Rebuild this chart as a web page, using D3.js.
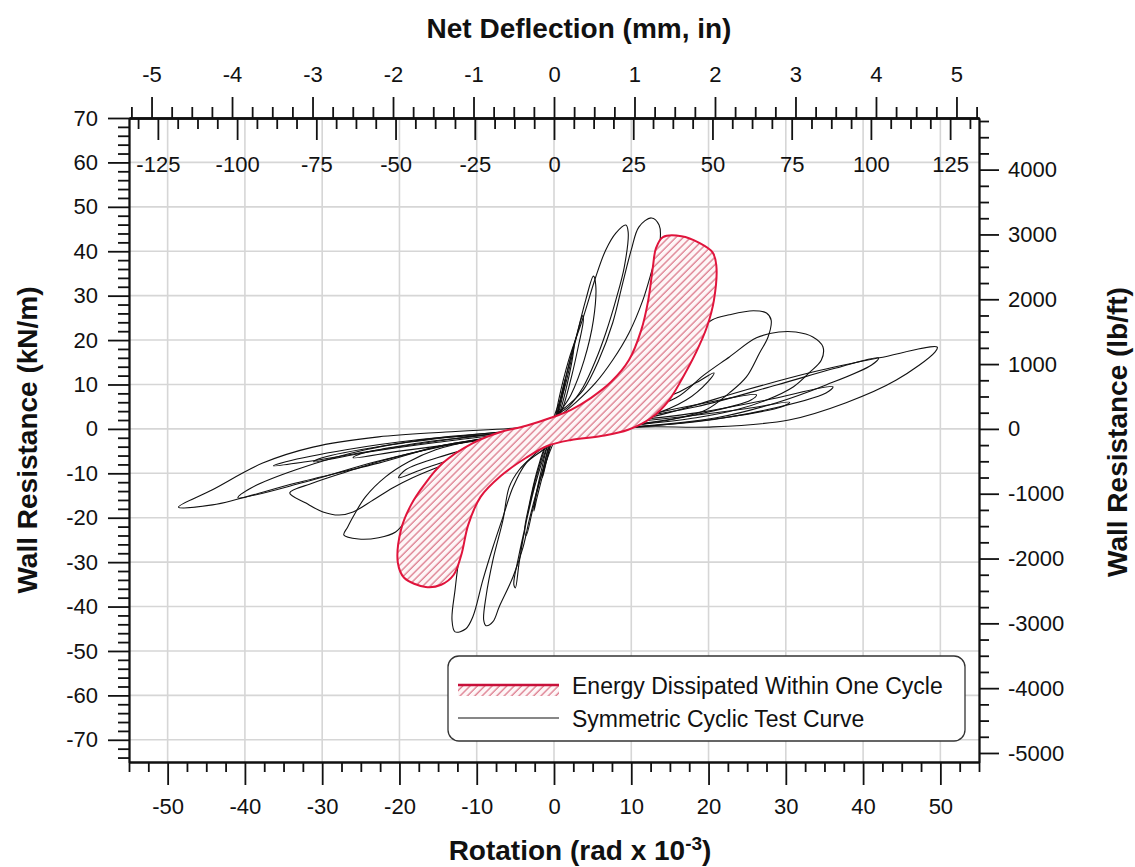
<!DOCTYPE html>
<html>
<head>
<meta charset="utf-8">
<script src="https://cdn.jsdelivr.net/npm/d3@7"></script>
<style>
  body { margin: 0; background: #fff; }
  svg text { font-family: "Liberation Sans", Arial, sans-serif; fill: #111; }
  .axis path, .axis line { stroke: #111; stroke-width: 1.8; }
  .axis text { font-size: 22px; }
</style>
</head>
<body>
<script>
// hysteresis data, rotation (rad x 10^-3) vs wall resistance (kN/m)

// one cycle with the hatched area
var energyLoop = [[14.1,43.2],[16.5,43.4],[18.8,41.9],[20.5,39.8],[21.0,36.9],[20.7,29.0],[19.8,23.0],
  [18.4,17.3],[16.7,11.7],[14.9,6.5],[12.6,2.5],[9.6,-0.2],[6.1,-1.6],[2.2,-2.5],[-0.8,-3.8],
  [-3.6,-6.5],[-6.9,-10.6],[-9.5,-15.3],[-11.1,-21.6],[-12.0,-28.4],[-13.0,-32.9],[-14.6,-35.1],
  [-16.6,-35.6],[-19.4,-33.5],[-20.2,-30.2],[-19.8,-22.7],[-18.5,-17.1],[-16.8,-12.6],[-14.4,-7.7],
  [-10.5,-3.2],[-6.9,-0.7],[-3.6,0.7],[-0.4,2.5],[2.2,4.3],[4.8,7.0],[7.4,10.6],[9.7,15.5],
  [11.3,22.3],[12.2,29.0],[12.8,36.5],[13.2,40.7]];

// black test curve, cycle by cycle
var cycle1 = [[0,0],[0.5,4],[1,8],[1.5,11.5],[1.3,9],[0.8,5],[0.3,1.8],[0,0.2],
  [-0.5,-4],[-1,-7.5],[-1.5,-11],[-1.3,-8.5],[-0.8,-4.5],[-0.3,-1.5]];
var cycle2 = [[0,0.5],[0.8,6],[1.6,12],[2.3,17],[2.6,19],[2.4,16],[1.7,10],[0.9,4.5],[0.2,1],
  [-0.6,-4.5],[-1.4,-10],[-2.2,-15.5],[-2.6,-18.5],[-2.4,-15.5],[-1.6,-9],[-0.8,-3.5]];
var cycle3 = [[0,1],[1,8],[2,15],[3,21.5],[3.7,25.5],[3.8,24.5],[3.2,19],[2.3,12],[1.2,5],[0.2,0.8],
  [-0.8,-5],[-1.8,-11.5],[-2.8,-18.5],[-3.6,-24],[-3.8,-23],[-3.2,-17],[-2.2,-9.5],[-1.1,-3.5]];
var cycle4 = [[0.1,3.2],[1.3,8.8],[2.8,20.0],[4.1,29.0],[5.1,34.4],[5.4,32.4],[5.1,24.5],[3.9,15.5],
  [2.2,7.7],[0.6,3.2],[-0.3,-1],[-1.3,-6],[-2.5,-13],[-3.6,-21],[-4.6,-29],[-5.2,-35],[-5.0,-35.8],
  [-4.5,-30],[-3.6,-21],[-2.5,-12],[-1.3,-5]];
var cycle5 = [[0.3,3.6],[0.6,6.5],[1.9,15.5],[3.8,25.2],[5.4,34.2],[6.7,40.3],[8.0,44.1],[9.3,45.9],
  [9.6,44.3],[9.1,36.5],[8.0,29.0],[6.7,21.6],[5.4,15.5],[3.8,9.5],[1.9,5.0],[0,2.5],
  [-1.3,-3.6],[-2.3,-5.4],[-4.5,-9.2],[-5.8,-13.1],[-6.6,-20.5],[-7.9,-29.5],[-8.8,-37.8],[-9.1,-43.0],
  [-8.8,-44.3],[-7.9,-43.4],[-7.1,-40.1],[-5.3,-33.3],[-4.0,-26.6],[-3.2,-20.5],[-2.3,-14.4],
  [-1.4,-9.2],[-0.6,-5.4],[0,-2.5]];
var cycle6 = [[0.3,3.2],[1.6,5.0],[3.8,8.8],[5.8,15.5],[7.6,23.9],[8.9,32.9],[10.0,40.3],[11.0,45.5],
  [12.6,47.5],[13.6,45.9],[13.7,41.9],[12.8,36.5],[11.5,29.0],[9.7,21.6],[7.6,15.5],[5.4,10.4],
  [2.8,5.9],[1.2,3.6],[0,2],
  [-1.0,-3.4],[-4.0,-6.3],[-7.1,-10.8],[-9.7,-15.3],[-11.4,-22.7],[-12.3,-29.5],[-12.8,-36.2],
  [-13.2,-43.0],[-12.8,-45.7],[-11.4,-45.0],[-10.5,-42.3],[-9.2,-34.0],[-7.9,-26.6],[-6.6,-19.8],
  [-5.3,-13.1],[-3.6,-7.7],[-1.4,-4.7],[0,-2.5]];
var cycle7 = [[0,0.5],[5.4,2.2],[10.6,4.5],[15.8,8.0],[18.5,10.5],[20.7,12.6],[19.9,10.6],[17.1,6.5],
  [11.9,2.7],[5.4,0.6],[0,-0.6],[-5,-2.5],[-11.4,-5.9],[-16.6,-8.8],[-20.1,-11.0],[-19.2,-9.2],
  [-14.0,-5.9],[-7.5,-2.9],[-2,-0.5]];
var cycle8 = [[0.3,0.5],[5.4,2.0],[10.6,5.4],[14.5,10.5],[16.5,15],[17.5,18.5],[18.8,22.3],[20.5,24.6],
  [22.7,25.7],[25.8,26.6],[27.5,26.1],[28.1,24.5],[27.7,20.7],[26.6,17.1],[24.9,11.7],[22.7,8.1],
  [19.7,4.3],[16.2,2.5],[10.6,1.1],[5.4,0.2],
  [-0.6,-1.4],[-7.5,-4.3],[-11.8,-8.6],[-14.9,-12.2],[-17.0,-16.0],[-18.8,-19.8],[-20.5,-23.2],
  [-22.7,-24.5],[-25.3,-24.8],[-27.2,-23.9],[-26.7,-22.1],[-26.0,-19.8],[-24.4,-15.3],[-21.8,-10.8],
  [-18.8,-7.4],[-15.3,-4.7],[-10.1,-2.5],[-3.6,-0.9]];
var cycle9 = [[0,0.3],[5,1.5],[11.9,3.2],[19.7,5.9],[26.2,7.7],[25.5,6.5],[18.4,3.2],[10.6,0.9],[4,0],
  [-5,-1.5],[-12,-3.2],[-20,-5],[-26,-6.5],[-25,-5.6],[-18,-3.3],[-10,-1.6],[-3,-0.3]];
var cycle10 = [[0.3,0.2],[8.0,2.5],[15.8,7.0],[19.3,12.0],[22.7,16.2],[26.2,20.5],[29.1,21.8],[31.3,21.8],
  [33.5,20.7],[34.8,18.5],[34.6,15.5],[33.0,12.6],[31.0,9.5],[27.5,6.5],[23.6,4.3],[18.4,2.5],
  [10.6,0.9],[4.1,-0.2],
  [-0.4,-0.9],[-7.5,-3.6],[-15.3,-8.8],[-18.3,-11.0],[-20.9,-13.3],[-23.4,-16.0],[-26.0,-18.7],
  [-27.8,-19.4],[-29.9,-18.7],[-32.1,-16.7],[-34.2,-14.4],[-31.2,-12.2],[-26.9,-9.7],[-22.7,-7.4],
  [-18.3,-5.4],[-14.0,-3.6],[-7.5,-1.8],[-2.3,-0.7]];
var cycle11 = [[0,0],[8,1.2],[18,3],[25,4.6],[30.5,6],[29.5,5],[22,2.5],[12,0.6],[4,-0.2],
  [-6,-1.2],[-15,-3],[-24,-5.2],[-31.1,-7.4],[-30,-6.5],[-22,-3.8],[-12,-1.6],[-3,-0.2]];
var cycle12 = [[0,0.2],[8,1.5],[18.4,3.6],[27.5,6.5],[36.1,9.5],[35.2,8.1],[27.5,4.3],[18.4,1.6],[8,0.2],
  [0,-0.3],[-7,-1],[-14,-2.5],[-24.4,-5.2],[-32.1,-7.4],[-36.3,-8.3],[-34.7,-7.4],[-26.9,-4.7],
  [-17.9,-2.5],[-7.5,-1.1]];
var cycle13 = [[0,0.5],[8,2],[18.4,5.0],[28.8,9.9],[36.5,13.7],[42.0,16.0],[41.1,14.4],[35.2,9.9],
  [28.8,5.9],[21.0,2.5],[11.9,0.7],[4,0],
  [-5,-1.2],[-14.0,-3.8],[-23.1,-7.4],[-32.1,-11.9],[-40.9,-15.5],[-39.2,-13.3],[-33.4,-9.2],
  [-24.4,-4.7],[-14.0,-1.8],[-4.9,-0.5]];
var cycle14 = [[0,1],[6,1.8],[11.9,2.5],[16.2,4.3],[24.9,8.8],[33.5,12.8],[42.1,16.0],[49.6,18.4],
  [49.3,17.3],[44.3,11.0],[37.8,5.9],[30.4,2.0],[20.6,0.45],[11.9,0.45],[5.4,-0.2],
  [0,-0.7],[-14.0,-3.6],[-22.7,-7.7],[-33.4,-12.2],[-40.9,-15.8],[-44.2,-17.1],[-48.6,-17.6],
  [-44.2,-13.7],[-37.7,-7.7],[-31.2,-4.1],[-22.7,-1.8],[-14.0,-0.7],[-4.9,0.2]];

var cycles = [cycle1, cycle2, cycle3, cycle4, cycle5, cycle6, cycle7, cycle8,
  cycle9, cycle10, cycle11, cycle12, cycle13, cycle14];

// tick values
var rotTicks = d3.range(-50, 51, 10);
var kNTicks = d3.range(-70, 71, 10);
var lbTicks = d3.range(-5000, 4001, 1000);
var mmTicks = d3.range(-125, 126, 25);
var inTicks = d3.range(-5, 6, 1);

var legendLabels = ["Energy Dissipated Within One Cycle", "Symmetric Cyclic Test Curve"];

var WALL_MM = 2438.4 / 1000;   // mm of deflection per 1e-3 rad (8 ft wall)
var KN_TO_LB = 68.5218;         // kN/m -> lb/ft

var W = 1135, H = 867;
var PLOT = {left: 129, right: 979, top: 118, bottom: 762};

var svg = d3.select("body").append("svg")
    .attr("width", W)
    .attr("height", H);

var x = d3.scaleLinear().domain([-55, 55]).range([PLOT.left, PLOT.right]);
var y = d3.scaleLinear().domain([-75, 70]).range([PLOT.bottom, PLOT.top]);
var xMM = d3.scaleLinear().domain([-55 * WALL_MM, 55 * WALL_MM]).range([PLOT.left, PLOT.right]);
var xIn = d3.scaleLinear().domain([-55 * WALL_MM / 25.4, 55 * WALL_MM / 25.4]).range([PLOT.left, PLOT.right]);
var yLb = d3.scaleLinear().domain([-75 * KN_TO_LB, 70 * KN_TO_LB]).range([PLOT.bottom, PLOT.top]);

// plain hyphen labels, no thousands separator
var plain = function (d) { return String(d); };

// hatch pattern
var defs = svg.append("defs");
var pat = defs.append("pattern")
    .attr("id", "hatch")
    .attr("patternUnits", "userSpaceOnUse")
    .attr("width", 5.2).attr("height", 5.2)
    .attr("patternTransform", "rotate(45)");
pat.append("rect").attr("width", 5.2).attr("height", 5.2).attr("fill", "#fef6f7");
pat.append("line").attr("x1", 1).attr("y1", 0).attr("x2", 1).attr("y2", 5.2)
    .attr("stroke", "#d45c72").attr("stroke-width", 1.05);

defs.append("clipPath").attr("id", "clip").append("rect")
    .attr("x", PLOT.left).attr("y", PLOT.top)
    .attr("width", PLOT.right - PLOT.left).attr("height", PLOT.bottom - PLOT.top);

// grid
var grid = svg.append("g").attr("stroke", "#d6d6d6").attr("stroke-width", 1.6);
grid.selectAll(".vg").data(rotTicks).enter().append("line")
    .attr("x1", function (d) { return x(d); }).attr("x2", function (d) { return x(d); })
    .attr("y1", PLOT.top).attr("y2", PLOT.bottom);
grid.selectAll(".hg").data(kNTicks.filter(function (d) { return d < 70; })).enter().append("line")
    .attr("y1", function (d) { return y(d); }).attr("y2", function (d) { return y(d); })
    .attr("x1", PLOT.left).attr("x2", PLOT.right);

// curves
var loopLine = d3.line()
    .x(function (d) { return x(d[0]); })
    .y(function (d) { return y(d[1]); })
    .curve(d3.curveCatmullRomClosed.alpha(0.5));

var plot = svg.append("g").attr("clip-path", "url(#clip)");
plot.selectAll(".cyc").data(cycles).enter().append("path")
    .attr("class", "cyc")
    .attr("d", loopLine)
    .attr("fill", "none")
    .attr("stroke", "#111")
    .attr("stroke-width", 1.1);

plot.append("path").datum(energyLoop)
    .attr("d", loopLine)
    .attr("fill", "url(#hatch)")
    .attr("stroke", "#e0143c")
    .attr("stroke-width", 2);

// axes
function notIn(list) {
    return function (v) { return !list.some(function (t) { return Math.abs(t - v) < 1e-6; }); };
}

// bottom
svg.append("g").attr("class", "axis")
    .attr("transform", "translate(0," + PLOT.bottom + ")")
    .call(d3.axisBottom(x).tickValues(d3.range(-55, 55.1, 2.5).filter(notIn(rotTicks)))
        .tickSize(10).tickSizeOuter(0).tickFormat(""));
svg.append("g").attr("class", "axis")
    .attr("transform", "translate(0," + PLOT.bottom + ")")
    .call(d3.axisBottom(x).tickValues(rotTicks).tickSize(23).tickSizeOuter(0).tickPadding(13)
        .tickFormat(plain));

// top: inch (outside) and mm (inside)
svg.append("g").attr("class", "axis")
    .attr("transform", "translate(0," + PLOT.top + ")")
    .call(d3.axisTop(xIn).tickValues(d3.range(-5.25, 5.3, 0.25).filter(notIn(inTicks)))
        .tickSize(11).tickSizeOuter(0).tickFormat(""));
svg.append("g").attr("class", "axis")
    .attr("transform", "translate(0," + PLOT.top + ")")
    .call(d3.axisTop(xIn).tickValues(inTicks).tickSize(21).tickSizeOuter(0).tickPadding(15)
        .tickFormat(plain));
svg.append("g").attr("class", "axis")
    .attr("transform", "translate(0," + PLOT.top + ")")
    .call(d3.axisBottom(xMM).tickValues(d3.range(-131.25, 132, 6.25).filter(notIn(mmTicks)))
        .tickSize(11).tickSizeOuter(0).tickFormat(""));
svg.append("g").attr("class", "axis")
    .attr("transform", "translate(0," + PLOT.top + ")")
    .call(d3.axisBottom(xMM).tickValues(mmTicks).tickSize(22).tickSizeOuter(0).tickPadding(16)
        .tickFormat(plain));

// left
svg.append("g").attr("class", "axis")
    .attr("transform", "translate(" + PLOT.left + ",0)")
    .call(d3.axisLeft(y).tickValues(d3.range(-74, 70, 2).filter(notIn(kNTicks)))
        .tickSize(11).tickSizeOuter(0).tickFormat(""));
svg.append("g").attr("class", "axis")
    .attr("transform", "translate(" + PLOT.left + ",0)")
    .call(d3.axisLeft(y).tickValues(kNTicks).tickSize(21).tickSizeOuter(0).tickPadding(10)
        .tickFormat(plain));

// right
svg.append("g").attr("class", "axis")
    .attr("transform", "translate(" + PLOT.right + ",0)")
    .call(d3.axisRight(yLb).tickValues(d3.range(-5000, 4751, 250).filter(notIn(lbTicks)))
        .tickSize(10).tickSizeOuter(0).tickFormat(""));
svg.append("g").attr("class", "axis")
    .attr("transform", "translate(" + PLOT.right + ",0)")
    .call(d3.axisRight(yLb).tickValues(lbTicks).tickSize(20).tickSizeOuter(0).tickPadding(9)
        .tickFormat(plain));

// titles
svg.append("text")
    .attr("x", 579).attr("y", 38)
    .attr("text-anchor", "middle")
    .style("font-size", "28px").style("font-weight", "bold")
    .text("Net Deflection (mm, in)");

var bt = svg.append("text")
    .attr("x", 580).attr("y", 860)
    .attr("text-anchor", "middle")
    .style("font-size", "28px").style("font-weight", "bold");
bt.append("tspan").text("Rotation (rad x 10");
bt.append("tspan").attr("dy", -10).style("font-size", "19px").text("-3");
bt.append("tspan").attr("dy", 10).text(")");

svg.append("text")
    .attr("transform", "translate(37,440) rotate(-90)")
    .attr("text-anchor", "middle")
    .style("font-size", "28px").style("font-weight", "bold")
    .text("Wall Resistance (kN/m)");

svg.append("text")
    .attr("transform", "translate(1127,432) rotate(-90)")
    .attr("text-anchor", "middle")
    .style("font-size", "28px").style("font-weight", "bold")
    .text("Wall Resistance (lb/ft)");

// legend
var lg = svg.append("g");
lg.append("rect")
    .attr("x", 448).attr("y", 656).attr("width", 517).attr("height", 85).attr("rx", 11)
    .attr("fill", "#fff").attr("stroke", "#333").attr("stroke-width", 1.3);
lg.append("rect")
    .attr("x", 458).attr("y", 685).attr("width", 101).attr("height", 11)
    .attr("fill", "url(#hatch)");
lg.append("line")
    .attr("x1", 458).attr("x2", 559).attr("y1", 685).attr("y2", 685)
    .attr("stroke", "#c8103a").attr("stroke-width", 2.5);
lg.append("line")
    .attr("x1", 458).attr("x2", 559).attr("y1", 718).attr("y2", 718)
    .attr("stroke", "#111").attr("stroke-width", 1.2);
lg.selectAll(".lt").data(legendLabels).enter().append("text")
    .attr("x", 572)
    .attr("y", function (d, i) { return 694 + i * 33; })
    .style("font-size", "23px")
    .text(function (d) { return d; });
</script>
</body>
</html>
